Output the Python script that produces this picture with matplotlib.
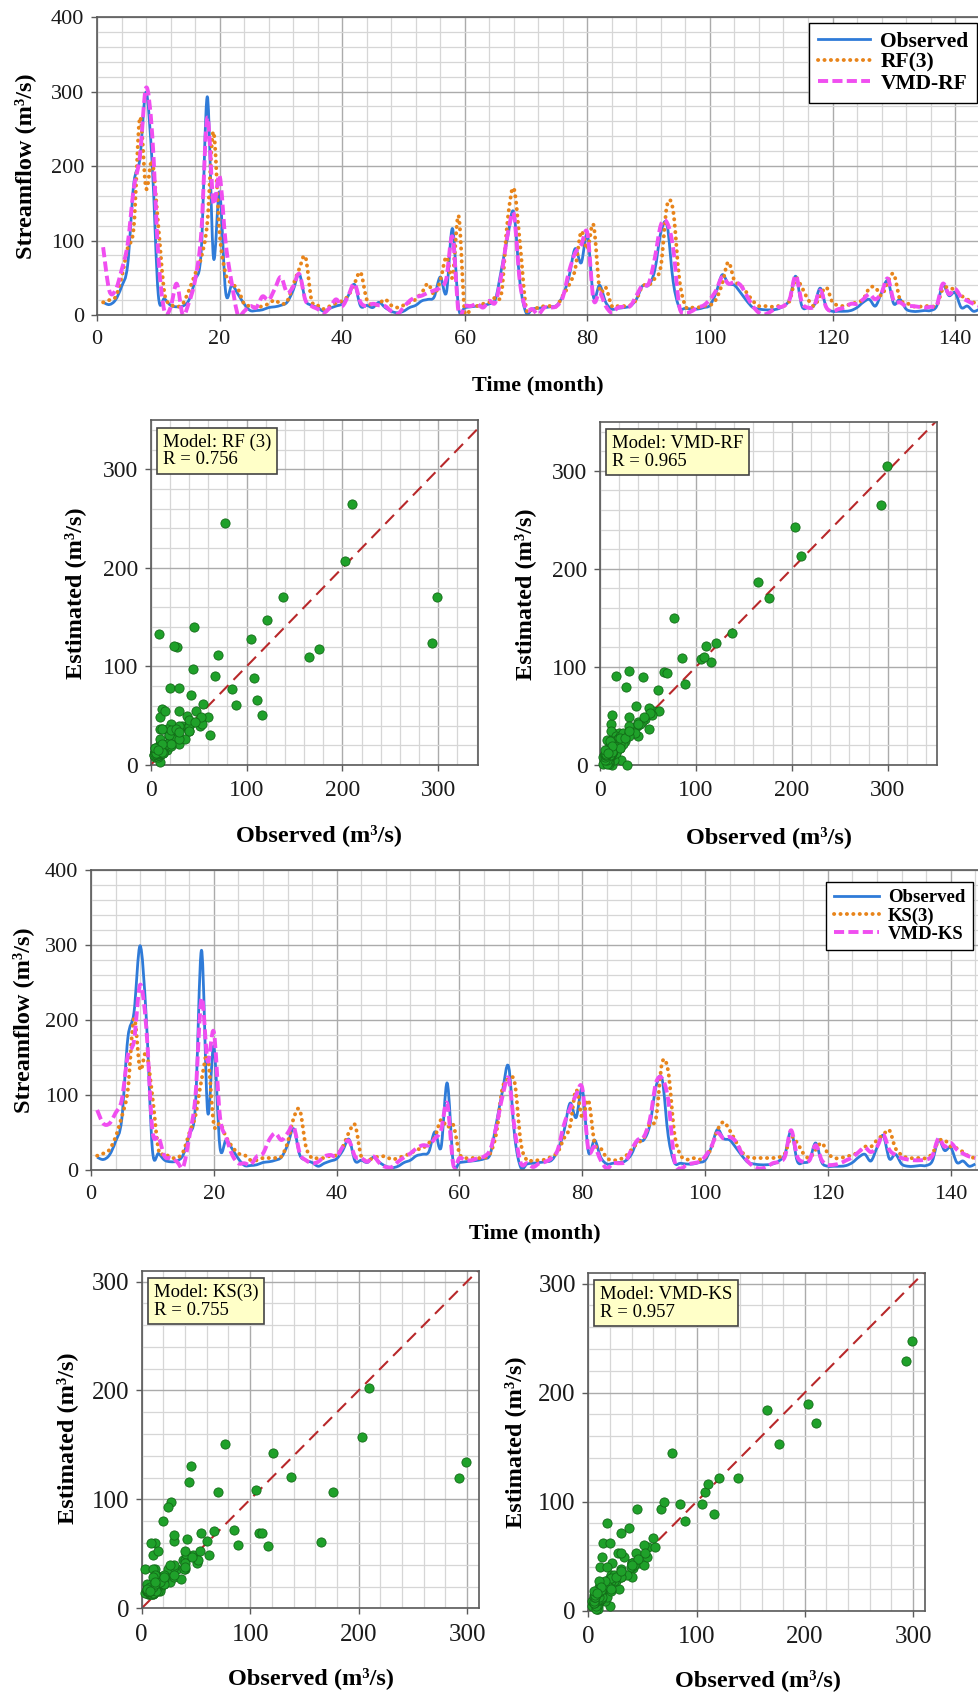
import matplotlib

matplotlib.use("Agg")
import matplotlib.pyplot as plt  # noqa: E402
import numpy as np  # noqa: E402
from matplotlib.lines import Line2D  # noqa: E402
from matplotlib.patches import PathPatch  # noqa: E402
from matplotlib.path import Path  # noqa: E402
from matplotlib.ticker import MultipleLocator  # noqa: E402

plt.rcParams["font.family"] = ["Liberation Serif", "DejaVu Serif"]

# monthly streamflow (m3/s), months 1..144
months = np.arange(1, 145)

observed = [17, 14, 20, 38, 67, 176, 210, 299, 203, 27,
            22, 13, 11, 12, 20, 47, 85, 293, 77, 165,
            30, 40, 28, 15, 6, 6, 7, 10, 11, 13,
            17, 33, 55, 20, 13, 10, 5, 9, 12, 15,
            26, 41, 12, 13, 10, 17, 10, 5, 3, 5,
            10, 13, 19, 21, 24, 51, 30, 116, 9, 10,
            11, 12, 13, 15, 21, 62, 105, 138, 44, 3,
            8, 9, 10, 11, 13, 26, 51, 89, 70, 108,
            24, 40, 17, 8, 9, 10, 12, 21, 39, 40,
            60, 111, 121, 45, 10, 9, 8, 8, 10, 13,
            30, 54, 42, 40, 30, 19, 10, 8, 7, 7,
            8, 12, 21, 52, 12, 10, 13, 36, 10, 5,
            5, 5, 6, 10, 17, 21, 12, 30, 46, 15,
            21, 8, 5, 5, 6, 6, 12, 40, 26, 30,
            10, 12, 5, 8]

rf3 = [17, 20, 24, 50, 90, 118, 265, 170, 207, 120,
       30, 15, 11, 15, 33, 55, 77, 124, 246, 110,
       55, 42, 35, 15, 12, 10, 12, 15, 20, 15,
       18, 40, 62, 78, 20, 13, 8, 12, 16, 19,
       26, 42, 57, 21, 13, 15, 21, 13, 10, 13,
       17, 21, 30, 42, 28, 46, 78, 51, 133, 3,
       12, 12, 15, 17, 24, 30, 128, 170, 97, 10,
       8, 10, 12, 12, 12, 26, 40, 61, 112, 88,
       121, 35, 37, 12, 12, 12, 13, 21, 39, 40,
       49, 66, 147, 140, 49, 12, 10, 10, 12, 13,
       21, 42, 71, 46, 40, 30, 19, 12, 12, 11,
       12, 12, 19, 49, 37, 21, 12, 26, 37, 17,
       13, 12, 15, 17, 21, 36, 37, 26, 44, 55,
       21, 17, 12, 11, 12, 12, 13, 35, 37, 33,
       26, 21, 17, 15]

vmd_rf = [91, 33, 33, 60, 95, 170, 213, 305, 243, 80,
          5, 10, 42, 0, 17, 47, 109, 265, 150, 187,
          96, 42, 0, 5, 12, 10, 25, 20, 35, 51,
          30, 38, 55, 20, 12, 8, 3, 10, 21, 12,
          26, 42, 17, 12, 15, 13, 12, 5, 1, 10,
          19, 24, 26, 30, 33, 37, 49, 105, 3, 12,
          12, 15, 10, 19, 17, 55, 108, 135, 44, 8,
          8, 1, 10, 10, 12, 24, 58, 83, 94, 110,
          21, 30, 12, 3, 10, 11, 12, 26, 40, 42,
          76, 121, 124, 90, 12, 3, 5, 10, 13, 21,
          33, 51, 42, 44, 40, 26, 12, 3, 1, 5,
          10, 12, 21, 53, 17, 10, 12, 33, 10, 5,
          8, 10, 15, 15, 21, 28, 21, 30, 49, 19,
          17, 12, 12, 11, 10, 11, 13, 42, 28, 35,
          24, 19, 15, 12]

ks3 = [19, 22, 27, 44, 71, 107, 202, 134, 157, 98,
       27, 22, 17, 16, 24, 49, 72, 120, 151, 61,
       62, 44, 31, 22, 20, 13, 13, 16, 16, 16,
       18, 36, 69, 80, 31, 16, 16, 16, 19, 20,
       31, 50, 60, 18, 13, 16, 18, 18, 14, 16,
       19, 22, 27, 29, 36, 44, 67, 57, 60, 22,
       16, 16, 16, 16, 22, 49, 109, 121, 116, 36,
       13, 13, 13, 14, 18, 24, 42, 58, 107, 69,
       93, 36, 29, 16, 13, 14, 18, 27, 36, 42,
       62, 69, 143, 131, 49, 20, 14, 16, 14, 17,
       29, 53, 64, 53, 38, 24, 17, 16, 16, 16,
       16, 17, 22, 44, 36, 22, 16, 27, 36, 22,
       16, 16, 18, 20, 24, 31, 31, 40, 47, 53,
       29, 20, 16, 16, 16, 16, 22, 38, 40, 31,
       29, 24, 18, 16]

vmd_ks = [80, 62, 62, 76, 93, 153, 172, 247, 190, 53,
          44, 18, 16, 11, 4, 44, 98, 229, 145, 184,
          71, 44, 20, 9, 9, 7, 18, 22, 40, 49,
          40, 49, 58, 22, 13, 9, 11, 18, 20, 18,
          31, 39, 18, 16, 11, 18, 9, 4, 4, 11,
          17, 22, 29, 33, 33, 42, 53, 89, 7, 16,
          13, 13, 16, 18, 27, 58, 98, 122, 53, 9,
          9, 4, 9, 11, 16, 27, 60, 82, 100, 109,
          27, 31, 13, 2, 9, 9, 11, 27, 40, 44,
          67, 116, 122, 93, 13, 2, 7, 9, 11, 18,
          31, 49, 42, 44, 38, 22, 11, 4, 2, 4,
          9, 11, 18, 53, 18, 11, 13, 33, 13, 7,
          7, 9, 13, 17, 24, 30, 24, 31, 47, 27,
          20, 16, 14, 13, 13, 14, 19, 42, 31, 36,
          27, 22, 18, 16]

r_values = {"RF (3)": 0.756, "VMD-RF": 0.965, "KS(3)": 0.755, "VMD-KS": 0.957}

C_OBS = "#2f7bd8"
C_SINGLE = "#e8841a"
C_VMD = "#f04ef0"
GRID_MINOR = "#d6d6d6"
GRID_MAJOR = "#ababab"
SPINE = "#5a5a5a"
LABEL = dict(fontsize=17.5, fontweight="bold")

OBS_STYLE = dict(color=C_OBS, lw=2.0)
SINGLE_STYLE = dict(color=C_SINGLE, lw=2.8, linestyle=(0, (0.05, 1.6)))
VMD_STYLE = dict(color=C_VMD, lw=2.8, linestyle=(0, (2.6, 1.1)))

W, H = 979, 1702


def px_axes(fig, left, top, right, bottom):
    """Axes from pixel edges (origin top-left)."""
    return fig.add_axes([left / W, 1 - bottom / H, (right - left) / W, (bottom - top) / H])


def smooth_line(ax, x, y, style, capstyle="butt"):
    """Draw the series as a smoothed curve (cubic Bezier through every data point)."""
    pts = np.column_stack([x, y]).astype(float)
    ext = np.vstack([pts[0], pts, pts[-1]])
    verts, codes = [pts[0]], [Path.MOVETO]
    for i in range(1, len(ext) - 2):
        p0, p1, p2, p3 = ext[i - 1], ext[i], ext[i + 1], ext[i + 2]
        verts += [p1 + (p2 - p0) / 6, p2 - (p3 - p1) / 6, p2]
        codes += [Path.CURVE4] * 3
    patch = PathPatch(Path(verts, codes), facecolor="none", edgecolor=style["color"],
                      lw=style["lw"], linestyle=style.get("linestyle", "solid"),
                      capstyle=capstyle, joinstyle="round")
    ax.add_patch(patch)


def style_frame(ax, tick_size):
    for sp in ax.spines.values():
        sp.set_color(SPINE)
        sp.set_linewidth(1.2)
    ax.tick_params(which="major", direction="out", length=4, width=1, color=SPINE,
                   labelsize=tick_size, labelcolor="#1a1a1a")
    ax.tick_params(axis="x", which="major", pad=7)
    ax.tick_params(axis="y", which="major", pad=5)
    ax.tick_params(which="minor", length=0)
    ax.grid(True, which="minor", color=GRID_MINOR, lw=0.9)
    ax.grid(True, which="major", color=GRID_MAJOR, lw=1.0)
    ax.set_axisbelow(True)


def series_panel(ax, single, vmd, names, xmax, legend_anchor, legend_size, ylab_x, xlab_y):
    smooth_line(ax, months, observed, OBS_STYLE)
    smooth_line(ax, months, single, SINGLE_STYLE, capstyle="round")
    smooth_line(ax, months, vmd, VMD_STYLE)
    ax.set_xlim(0, xmax)
    ax.set_ylim(0, 400)
    ax.xaxis.set_major_locator(MultipleLocator(20))
    ax.xaxis.set_minor_locator(MultipleLocator(4))
    ax.yaxis.set_major_locator(MultipleLocator(100))
    ax.yaxis.set_minor_locator(MultipleLocator(20))
    style_frame(ax, 16)
    ax.spines["right"].set_visible(False)
    ax.text(0.5, xlab_y, "Time (month)", transform=ax.transAxes, ha="center", va="center",
            fontsize=16, fontweight="bold")
    ax.text(ylab_x, 0.5, "Streamflow (m³/s)", transform=ax.transAxes, ha="center",
            va="center", rotation=90, **LABEL)
    handles = [Line2D([], [], **OBS_STYLE),
               Line2D([], [], dash_capstyle="round", **SINGLE_STYLE),
               Line2D([], [], **VMD_STYLE)]
    leg = ax.legend(handles, ["Observed"] + names, loc="upper right",
                    bbox_to_anchor=legend_anchor, borderaxespad=0,
                    prop=dict(family="Liberation Serif", weight="bold", size=legend_size),
                    handlelength=2.4, handletextpad=0.5, labelspacing=0.05,
                    borderpad=0.4, fancybox=False, framealpha=1, edgecolor="black")
    leg.get_frame().set_linewidth(1.0)


def scatter_panel(ax, est, model, lim, tick_size, label_pos):
    xmax, ymax = lim
    ax.plot([0, 350], [0, 350], color="#b8282a", lw=1.5, linestyle=(0, (6, 3.5)), zorder=2)
    ax.scatter(observed, est, s=44, color="#1fa12a", edgecolors="#136b18", linewidths=0.6,
               zorder=3, clip_on=False)
    ax.set_xlim(0, xmax)
    ax.set_ylim(0, ymax)
    ax.xaxis.set_major_locator(MultipleLocator(100))
    ax.yaxis.set_major_locator(MultipleLocator(100))
    ax.xaxis.set_minor_locator(MultipleLocator(20))
    ax.yaxis.set_minor_locator(MultipleLocator(20))
    style_frame(ax, tick_size)
    (xl_x, xl_y), (yl_x, yl_y) = label_pos
    ax.text(xl_x, xl_y, "Observed (m³/s)", transform=ax.transAxes, ha="center",
            va="center", **LABEL)
    ax.text(yl_x, yl_y, "Estimated (m³/s)", transform=ax.transAxes, ha="center",
            va="center", rotation=90, **LABEL)
    ax.annotate(f"Model: {model}\nR = {r_values[model]:.3f}", xy=(0, 1),
                xycoords="axes fraction", xytext=(8.5, -9.5), textcoords="offset points",
                ha="left", va="top", fontsize=13.5, linespacing=1.05, zorder=5,
                bbox=dict(boxstyle="square,pad=0.3", facecolor="#ffffc8",
                          edgecolor="#444444", linewidth=1.2))


fig = plt.figure(figsize=(W / 100, H / 100), dpi=100)

ax_ts1 = px_axes(fig, 97, 17, 979, 315)
series_panel(ax_ts1, rf3, vmd_rf, ["RF(3)", "VMD-RF"], 143.9,
             (0.998, 0.980), 15.5, -0.082, -0.235)

ax_rf = px_axes(fig, 150.7, 420, 478.3, 765)
scatter_panel(ax_rf, rf3, "RF (3)", (341.7, 350), 17,
              ((0.514, -0.203), (-0.231, 0.497)))

ax_vrf = px_axes(fig, 600, 421.7, 936.7, 765)
scatter_panel(ax_vrf, vmd_rf, "VMD-RF", (351, 350), 17,
              ((0.502, -0.209), (-0.223, 0.498)))

ax_ts2 = px_axes(fig, 91, 870, 979, 1170)
series_panel(ax_ts2, ks3, vmd_ks, ["KS(3)", "VMD-KS"], 144.6,
             (0.993, 0.961), 13.5, -0.077, -0.21)

ax_ks = px_axes(fig, 141.7, 1270.7, 479, 1608.3)
scatter_panel(ax_ks, ks3, "KS(3)", (311, 310), 18,
              ((0.502, -0.207), (-0.222, 0.505)))

ax_vks = px_axes(fig, 588.3, 1272.7, 925, 1610.7)
scatter_panel(ax_vks, vmd_ks, "VMD-KS", (311, 310), 18,
              ((0.503, -0.205), (-0.218, 0.5)))

fig.savefig("out.png", dpi=100)
plt.close(fig)
